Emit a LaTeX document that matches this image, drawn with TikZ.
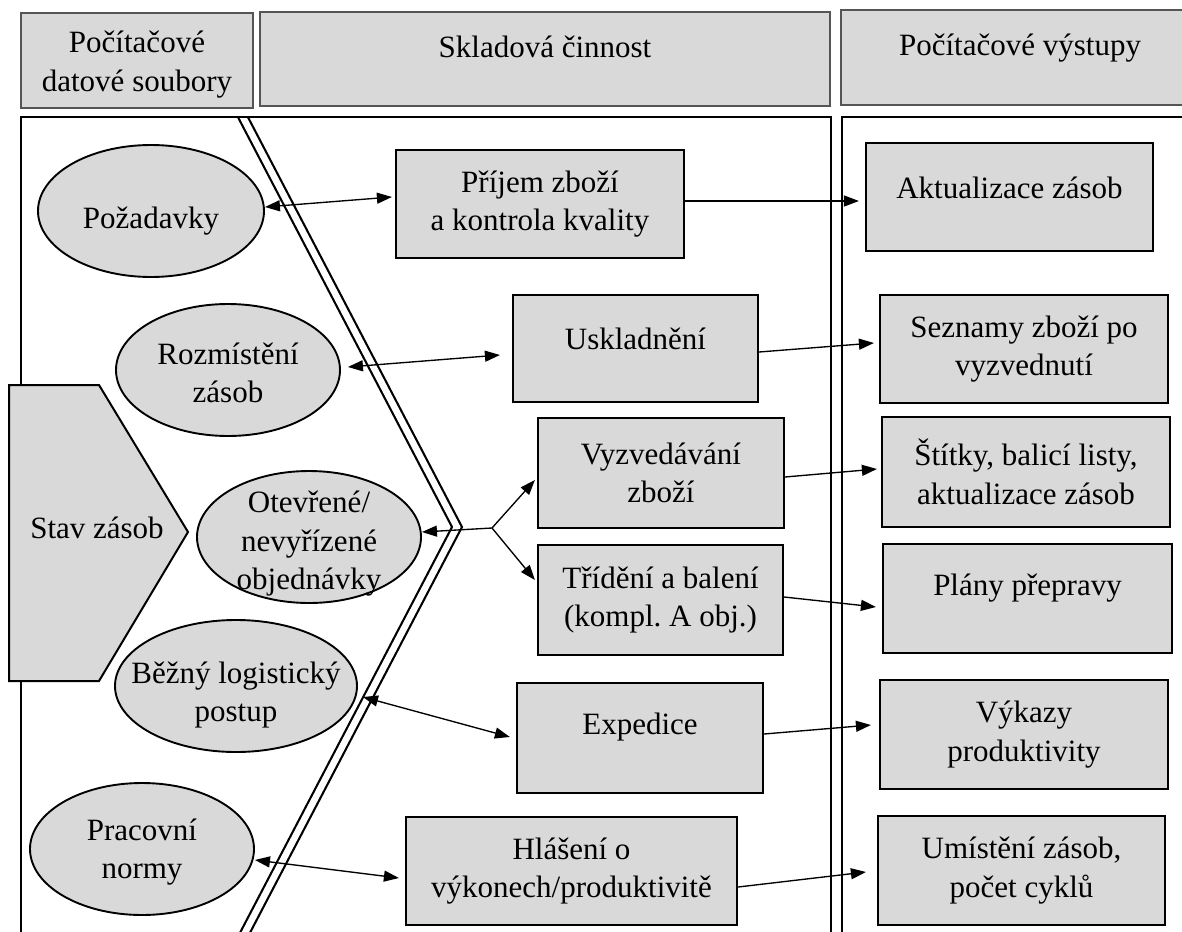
\documentclass[tikz,border=0pt]{standalone}
\usepackage{fontspec}
\setmainfont{Liberation Serif}
\usetikzlibrary{arrows.meta,shapes.geometric}
\definecolor{fillgray}{RGB}{217,217,217}
\definecolor{headline}{RGB}{85,85,85}
\frenchspacing
% raise a single line of text inside a box without changing its size
\newcommand{\liftup}[2]{\raisebox{#1}[\height][\depth]{#2}}

\begin{document}
\begin{tikzpicture}[x=1pt,y=-1pt,
  every node/.style={font=\fontsize{31}{38.5}\selectfont, align=center, inner sep=0pt},
  header/.style={draw=headline, line width=1.5pt, fill=fillgray, rectangle},
  panel/.style={draw=black, line width=2.6pt},
  box/.style={draw=black, line width=2.2pt, fill=fillgray, rectangle},
  oval/.style={draw=black, line width=1.9pt, fill=fillgray, ellipse},
  conn/.style={line width=1.35pt, draw=black, -{Triangle[length=15pt,width=11pt]}},
  both/.style={line width=1.35pt, draw=black, {Triangle[length=15pt,width=11pt]}-{Triangle[length=15pt,width=11pt]}},
  chev/.style={draw=black, line width=2.2pt, double=white, double distance=6.5pt, line join=miter}
]
\useasboundingbox (0,0) rectangle (1182,931);
\clip (0,0) rectangle (1182,931);
\fill[white] (0,0) rectangle (1182,931);

% column headers
\node[header, minimum width=232pt, minimum height=95pt] (hdata) at (137,60.5) {};
\node (hdatatext) at ([yshift=-4pt]hdata.center) {Počítačové\\datové soubory};
\node[header, minimum width=570pt, minimum height=94pt] (hwork) at (545,59) {\liftup{12pt}{Skladová činnost}};
\node[header, minimum width=358pt, minimum height=95pt] (hout) at (1020,57.5) {\liftup{9pt}{Počítačové výstupy}};

% chevron separating data files from warehouse activity
\begin{scope}
  \clip (0,117) rectangle (1182,931);
  \draw[chev] (234,100) -- (457,527) -- (236,950);
\end{scope}

% column panels
\draw[panel] (21,117) rectangle (831,970);
\draw[panel] (842,117) rectangle (1220,970);

% inventory status
\draw[draw=black, line width=2pt, fill=fillgray] (9,385) -- (99,385) -- (188,532) -- (99,681) -- (9,681) -- cycle;
\node (stav) at (97,528) {Stav zásob};

% data files
\node[oval, minimum width=226pt, minimum height=132pt] (pozad) at (151,211) {};
\node (pozadtext) at ([yshift=-10pt]pozad.center) {Požadavky};
\node[oval, minimum width=224pt, minimum height=132pt] (rozm) at (228,370) {};
\node (rozmtext) at ([yshift=-3pt]rozm.center) {Rozmístění\\zásob};
\node[oval, minimum width=224pt, minimum height=132pt] (otevr) at (309,537) {};
\node (otevrtext) at ([yshift=-7pt]otevr.center) {Otevřené/\\nevyřízené\\objednávky};
\node[oval, minimum width=242pt, minimum height=132pt] (bezny) at (236,686) {};
\node (beznytext) at ([yshift=-9pt]bezny.center) {Běžný logistický\\postup};
\node[oval, minimum width=224pt, minimum height=132pt] (pracov) at (142,849) {};
\node (pracovtext) at ([yshift=-3pt]pracov.center) {Pracovní\\normy};

% warehouse activities
\node[box, minimum width=288pt, minimum height=108pt] (prijem) at (540,204) {Příjem zboží\\a kontrola kvality};
\node[box, minimum width=245pt, minimum height=107pt] (uskl) at (635.5,348.5) {\liftup{10pt}{Uskladnění}};
\node[box, minimum width=246pt, minimum height=110pt] (vyzv) at (661,473) {Vyzvedávání\\zboží};
\node[box, minimum width=245pt, minimum height=110pt] (trid) at (660.5,600) {Třídění a balení\\(kompl. A obj.)};
\node[box, minimum width=246pt, minimum height=110pt] (exped) at (640,738) {\liftup{11pt}{Expedice}};
\node[box, minimum width=331pt, minimum height=108pt] (hlas) at (571.5,871) {Hlášení o\\výkonech/produktivitě};

% computer outputs
\node[box, minimum width=287pt, minimum height=108pt] (aktual) at (1009.5,197) {\liftup{9pt}{Aktualizace zásob}};
\node[box, minimum width=288pt, minimum height=108pt] (seznam) at (1024,349) {Seznamy zboží po\\vyzvednutí};
\node[box, minimum width=288pt, minimum height=110pt] (stitky) at (1026,472) {Štítky, balicí listy,\\aktualizace zásob};
\node[box, minimum width=289pt, minimum height=109pt] (plany) at (1027.5,598.5) {\liftup{10pt}{Plány přepravy}};
\node[box, minimum width=288pt, minimum height=109pt] (vykazy) at (1024,734.5) {Výkazy\\produktivity};
\node[box, minimum width=287pt, minimum height=109pt] (umist) at (1021.5,870.5) {Umístění zásob,\\počet cyklů};

% data files <-> activities
\draw[both] ([yshift=4pt]pozad.east) -- ([xshift=-3pt,yshift=7pt]prijem.west);
\draw[both] ([xshift=7pt,yshift=3pt]rozm.east) -- ([xshift=-12pt,yshift=-6.5pt]uskl.west);
\coordinate (split) at (492,528);
\draw[conn] (split) -- ([yshift=5pt]otevr.east);
\draw[conn] (split) -- ([xshift=-2pt,yshift=-7pt]vyzv.west);
\draw[conn] (split) -- ([xshift=-2pt,yshift=20pt]trid.west);
\draw[both] ([xshift=5pt,yshift=-11pt]bezny.east) -- ([xshift=-6pt,yshift=1pt]exped.west);
\draw[both] ([yshift=-11pt]pracov.east) -- ([xshift=-6pt,yshift=-7pt]hlas.west);

% activities -> outputs
\draw[conn] ([yshift=3pt]prijem.east) -- ([xshift=-6pt,yshift=-4pt]aktual.west);
\draw[conn] ([yshift=-3.5pt]uskl.east) -- ([xshift=-5pt,yshift=6pt]seznam.west);
\draw[conn] ([yshift=-4pt]vyzv.east) -- ([xshift=-4pt,yshift=3pt]stitky.west);
\draw[conn] ([yshift=3pt]trid.east) -- ([xshift=-6pt,yshift=-8.5pt]plany.west);
\draw[conn] ([yshift=4pt]exped.east) -- ([xshift=-8pt,yshift=9.5pt]vykazy.west);
\draw[conn] ([yshift=-16pt]hlas.east) -- ([xshift=-11pt,yshift=-1.5pt]umist.west);
\end{tikzpicture}
\end{document}
